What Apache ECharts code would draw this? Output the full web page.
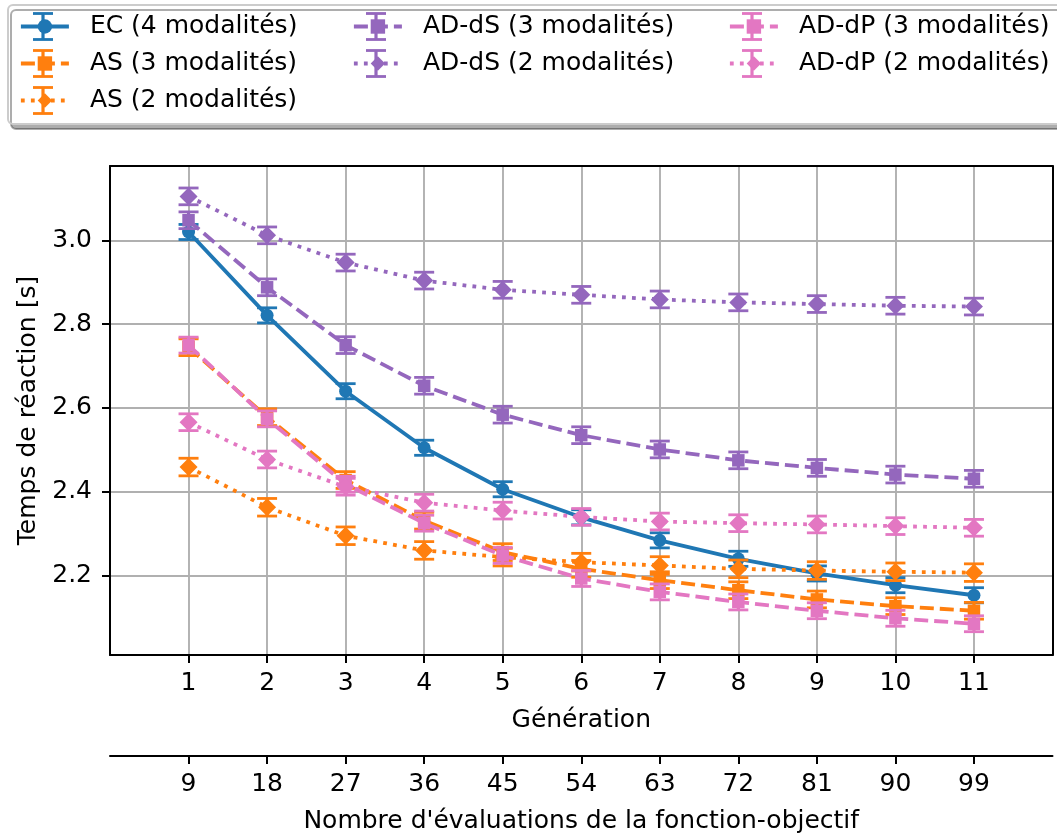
<!DOCTYPE html>
<html>
<head>
<meta charset="utf-8">
<script src="https://cdn.jsdelivr.net/npm/echarts@6/dist/echarts.min.js"></script>
<style>
html,body{margin:0;padding:0;background:#fff;}
#chart{width:1057px;height:839px;}
</style>
</head>
<body>
<div id="chart"></div>
<script>
// ---- data ----
const generations = [1, 2, 3, 4, 5, 6, 7, 8, 9, 10, 11];
const evaluationTicks = [9, 18, 27, 36, 45, 54, 63, 72, 81, 90, 99];
const yTicks = [2.2, 2.4, 2.6, 2.8, 3.0];

const EC4 =   [3.020, 2.821, 2.640, 2.505, 2.406, 2.339, 2.284, 2.240, 2.205, 2.177, 2.153];
const AS3 =   [2.745, 2.578, 2.428, 2.331, 2.256, 2.216, 2.189, 2.165, 2.143, 2.127, 2.116];
const AS2 =   [2.459, 2.363, 2.295, 2.260, 2.244, 2.232, 2.224, 2.216, 2.212, 2.209, 2.207];
const ADdS3 = [3.048, 2.888, 2.750, 2.653, 2.584, 2.535, 2.501, 2.475, 2.457, 2.441, 2.431];
const ADdS2 = [3.105, 3.012, 2.947, 2.904, 2.882, 2.870, 2.859, 2.852, 2.848, 2.844, 2.842];
const ADdP3 = [2.750, 2.574, 2.418, 2.325, 2.248, 2.193, 2.161, 2.137, 2.116, 2.098, 2.085];
const ADdP2 = [2.566, 2.477, 2.412, 2.374, 2.355, 2.340, 2.329, 2.325, 2.322, 2.318, 2.314];

const errEC4 =   [0.018, 0.018, 0.018, 0.018, 0.018, 0.018, 0.018, 0.018, 0.018, 0.018, 0.018];
const errAS3 =   [0.020, 0.020, 0.020, 0.020, 0.020, 0.020, 0.020, 0.020, 0.020, 0.020, 0.020];
const errAS2 =   [0.021, 0.021, 0.021, 0.021, 0.021, 0.021, 0.021, 0.021, 0.021, 0.021, 0.021];
const errADdS3 = [0.020, 0.020, 0.020, 0.020, 0.020, 0.020, 0.020, 0.020, 0.020, 0.020, 0.020];
const errADdS2 = [0.020, 0.020, 0.020, 0.020, 0.020, 0.020, 0.020, 0.020, 0.020, 0.020, 0.020];
const errADdP3 = [0.019, 0.019, 0.019, 0.019, 0.019, 0.019, 0.019, 0.019, 0.019, 0.019, 0.019];
const errADdP2 = [0.020, 0.020, 0.020, 0.020, 0.020, 0.020, 0.020, 0.020, 0.020, 0.020, 0.020];

const seriesNames = ['EC (4 modalités)', 'AS (3 modalités)', 'AS (2 modalités)',
  'AD-dS (3 modalités)', 'AD-dS (2 modalités)', 'AD-dP (3 modalités)', 'AD-dP (2 modalités)'];
// ---- end data ----

const FONT = 'DejaVu Sans';
const FS = 25;
const LW = 3.8;
const DASHED = [14, 6];
const DOTTED = [3.8, 6.2];

const defs = [
  {name: seriesNames[0], vals: EC4,   errs: errEC4,   color: '#1f77b4', dash: 'solid', symbol: 'circle',  size: 13},
  {name: seriesNames[1], vals: AS3,   errs: errAS3,   color: '#ff7f0e', dash: DASHED,  symbol: 'rect',    size: 12.5},
  {name: seriesNames[2], vals: AS2,   errs: errAS2,   color: '#ff7f0e', dash: DOTTED,  symbol: 'diamond', size: 18},
  {name: seriesNames[3], vals: ADdS3, errs: errADdS3, color: '#9467bd', dash: DASHED,  symbol: 'rect',    size: 12.5},
  {name: seriesNames[4], vals: ADdS2, errs: errADdS2, color: '#9467bd', dash: DOTTED,  symbol: 'diamond', size: 18},
  {name: seriesNames[5], vals: ADdP3, errs: errADdP3, color: '#e377c2', dash: DASHED,  symbol: 'rect',    size: 12.5},
  {name: seriesNames[6], vals: ADdP2, errs: errADdP2, color: '#e377c2', dash: DOTTED,  symbol: 'diamond', size: 18}
];

const CAP = 10;
const ELW = 3.2;
const CLW = 2.8;
function makeErrRender(color) {
  return function (params, api) {
    const x = api.value(0), y = api.value(1), e = api.value(2);
    const top = api.coord([x, y + e]);
    const bot = api.coord([x, y - e]);
    const st = {stroke: color, lineWidth: ELW};
    const cst = {stroke: color, lineWidth: CLW};
    return {
      type: 'group',
      children: [
        {type: 'line', shape: {x1: top[0], y1: top[1], x2: bot[0], y2: bot[1]}, style: st},
        {type: 'line', shape: {x1: top[0] - CAP, y1: top[1], x2: top[0] + CAP, y2: top[1]}, style: cst},
        {type: 'line', shape: {x1: bot[0] - CAP, y1: bot[1], x2: bot[0] + CAP, y2: bot[1]}, style: cst}
      ]
    };
  };
}

const series = [];
defs.forEach((d, i) => {
  series.push({
    type: 'custom',
    name: d.name + ' err',
    xAxisIndex: 0, yAxisIndex: 0,
    z: 2 + i * 2,
    renderItem: makeErrRender(d.color),
    data: generations.map((g, k) => [g, d.vals[k], d.errs[k]]),
    encode: {x: 0, y: 1},
    silent: true
  });
  series.push({
    type: 'line',
    name: d.name,
    xAxisIndex: 0, yAxisIndex: 0,
    z: 3 + i * 2,
    data: generations.map((g, k) => [g, d.vals[k]]),
    symbol: d.symbol,
    symbolSize: d.size,
    showSymbol: true,
    showAllSymbol: true,
    animation: false,
    itemStyle: {color: d.color, opacity: 1},
    lineStyle: {color: d.color, width: LW, type: d.dash, cap: 'butt'},
    emphasis: {disabled: true}
  });
});

const gridLeft = 110, gridTop = 166, gridRight = 1052.5, gridBottom = 659.3;

const textStyle = {fontFamily: FONT, fontSize: FS, color: '#000'};

function legendCol(left, names) {
  return {
    data: names,
    orient: 'vertical',
    left: left,
    top: 14,
    padding: 0,
    itemWidth: 48,
    itemHeight: 18,
    itemGap: 12,
    selectedMode: false,
    lineStyle: {width: LW},
    textStyle: {fontFamily: FONT, fontSize: FS, color: '#000', padding: [0, 0, 0, 16]},
    z: 10
  };
}

// legend errorbar glyphs (decoration of the legend handles)
const legendGraphics = [];
const colX = [19 + 24, 352 + 24, 728 + 24];
const rowY = [26.5, 63.5, 100.5];
const legendSlots = [[0,0],[0,1],[0,2],[1,0],[1,1],[2,0],[2,1]];
legendSlots.forEach((s, i) => {
  const cx = colX[s[0]], cy = rowY[s[1]], c = defs[i].color;
  legendGraphics.push(
    {type: 'line', z: 5, shape: {x1: cx, y1: cy - 13, x2: cx, y2: cy + 13}, style: {stroke: c, lineWidth: ELW}},
    {type: 'line', z: 5, shape: {x1: cx - CAP, y1: cy - 13, x2: cx + CAP, y2: cy - 13}, style: {stroke: c, lineWidth: CLW}},
    {type: 'line', z: 5, shape: {x1: cx - CAP, y1: cy + 13, x2: cx + CAP, y2: cy + 13}, style: {stroke: c, lineWidth: CLW}}
  );
});

const option = {
  animation: false,
  backgroundColor: '#fff',
  textStyle: {fontFamily: FONT},
  graphic: [
    {type: 'rect', z: 1, shape: {x: 8, y: 5, width: 1120, height: 119, r: 5},
     style: {fill: '#ffffff', stroke: '#cccccc', lineWidth: 2,
             shadowColor: 'rgba(0,0,0,0.32)', shadowOffsetX: 3, shadowOffsetY: 5, shadowBlur: 0}}
  ].concat(legendGraphics),
  legend: [
    legendCol(19, [seriesNames[0], seriesNames[1], seriesNames[2]]),
    legendCol(352, [seriesNames[3], seriesNames[4]]),
    legendCol(728, [seriesNames[5], seriesNames[6]])
  ],
  grid: {
    left: gridLeft, top: gridTop,
    width: gridRight - gridLeft, height: gridBottom - gridTop,
    show: false, containLabel: false
  },
  xAxis: [
    {
      type: 'value', position: 'bottom', min: 0, max: 12, interval: 1,
      name: 'Génération', nameLocation: 'middle', nameGap: 53,
      nameTextStyle: textStyle,
      axisLine: {show: true, onZero: false, lineStyle: {color: '#000', width: 2}},
      axisTick: {show: true, length: 8, lineStyle: {color: '#000', width: 2}, customValues: generations},
      axisLabel: {show: true, margin: 16, fontFamily: FONT, fontSize: FS, color: '#000', customValues: generations,
                  formatter: v => String(v)},
      splitLine: {show: true, lineStyle: {color: '#b0b0b0', width: 1.9}},
      z: 1
    },
    {
      type: 'value', position: 'bottom', offset: 101, min: 0, max: 12, interval: 1,
      name: "Nombre d'évaluations de la fonction-objectif", nameLocation: 'middle', nameGap: 53,
      nameTextStyle: textStyle,
      axisLine: {show: true, onZero: false, lineStyle: {color: '#000', width: 2}},
      axisTick: {show: true, length: 8, lineStyle: {color: '#000', width: 2}, customValues: generations},
      axisLabel: {show: true, margin: 16, fontFamily: FONT, fontSize: FS, color: '#000', customValues: generations,
                  formatter: v => String(evaluationTicks[generations.indexOf(Math.round(v))])},
      splitLine: {show: false}
    },
    {
      type: 'value', position: 'top', min: 0, max: 12, interval: 1,
      axisLine: {show: true, onZero: false, lineStyle: {color: '#000', width: 2}},
      axisTick: {show: false}, axisLabel: {show: false}, splitLine: {show: false},
      z: 5
    }
  ],
  yAxis: [
    {
      type: 'value', position: 'left', min: 2.0104, max: 3.1775,
      name: 'Temps de réaction [s]', nameLocation: 'middle', nameGap: 65,
      nameRotate: 90,
      nameTextStyle: textStyle,
      axisLine: {show: true, onZero: false, lineStyle: {color: '#000', width: 2}},
      axisTick: {show: true, length: 8, lineStyle: {color: '#000', width: 2}, customValues: yTicks},
      axisLabel: {show: true, margin: 18, fontFamily: FONT, fontSize: FS, color: '#000', customValues: yTicks,
                  formatter: v => v.toFixed(1)},
      splitLine: {show: true, lineStyle: {color: '#b0b0b0', width: 1.9}},
      z: 1
    },
    {
      type: 'value', position: 'right', min: 2.0104, max: 3.1775,
      axisLine: {show: true, onZero: false, lineStyle: {color: '#000', width: 2}},
      axisTick: {show: false}, axisLabel: {show: false}, splitLine: {show: false},
      z: 5
    }
  ],
  series: series
};

const chart = echarts.init(document.getElementById('chart'), null, {renderer: 'canvas', width: 1057, height: 839});
chart.setOption(option);
</script>
</body>
</html>
